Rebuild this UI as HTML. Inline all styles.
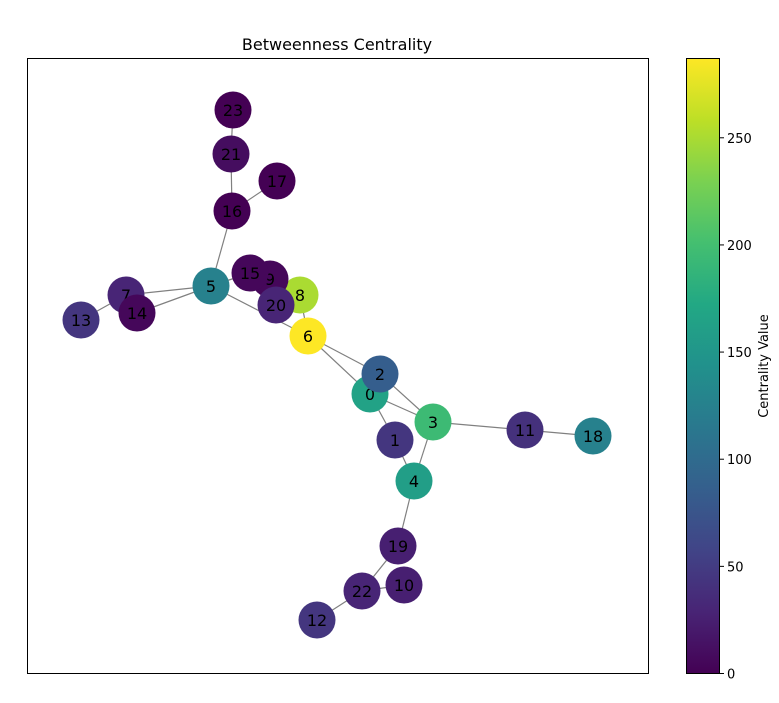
<!DOCTYPE html>
<html><head><meta charset="utf-8"><style>
body{margin:0;background:#fff;font-family:"DejaVu Sans","Liberation Sans",sans-serif}
</style></head><body>
<svg id="c" width="779" height="699" xmlns="http://www.w3.org/2000/svg" font-family="DejaVu Sans, Liberation Sans, sans-serif">
<defs><linearGradient id="vg" x1="0" y1="1" x2="0" y2="0">
<stop offset="0" stop-color="#440154"/><stop offset="0.1" stop-color="#482475"/><stop offset="0.2" stop-color="#414487"/><stop offset="0.3" stop-color="#355f8d"/><stop offset="0.4" stop-color="#2a788e"/><stop offset="0.5" stop-color="#21918c"/><stop offset="0.6" stop-color="#22a884"/><stop offset="0.7" stop-color="#44bf70"/><stop offset="0.8" stop-color="#7ad151"/><stop offset="0.9" stop-color="#bddf26"/><stop offset="1" stop-color="#fde725"/></linearGradient></defs>
<text x="337" y="50" text-anchor="middle" font-size="16">Betweenness Centrality</text>
<rect x="27.5" y="58.5" width="621" height="615" fill="none" stroke="#000"/>
<g id="edges"></g><g id="nodes"></g>
<rect x="686.5" y="58.5" width="33" height="615" fill="url(#vg)" stroke="#000"/>
<g id="cbticks"></g>
<text x="768" y="366" text-anchor="middle" font-size="13" transform="rotate(-90 768 366)">Centrality Value</text>
</svg>
<script>
const nodeIds=[0,1,2,3,4,5,6,7,8,9,10,11,12,13,14,15,16,17,18,19,20,21,22,23];
const nodeX=[370,395,380,433,414,211,308,126,300,270,404,525,317,81,137,250,232,277,593,398,276,231,362,233];
const nodeY=[394,440,374,422,481,286,336,295,295,279,585,430,620,320,313,273,211,181,436,546,305,154,591,110];
const centrality=[165,45,85,195,160,125,287,30,250,5,25,40,45,45,5,5,0,0,125,25,30,10,30,0];
const edgeFrom=[6,6,0,2,0,1,3,3,11,4,19,22,22,5,5,16,21,16,5,5,7,8,15,9];
const edgeTo=[0,2,3,3,1,4,4,11,18,19,22,10,12,6,16,21,23,17,7,14,13,6,5,20];
const cbTicks=[0,50,100,150,200,250];
const vmax=287;
const stops=["#440154","#482475","#414487","#355f8d","#2a788e","#21918c","#22a884","#44bf70","#7ad151","#bddf26","#fde725"];
function hex(h){return [1,3,5].map(i=>parseInt(h.substr(i,2),16));}
function viridis(t){t=Math.max(0,Math.min(1,t));const p=t*(stops.length-1),i=Math.min(Math.floor(p),stops.length-2),f=p-i;const a=hex(stops[i]),b=hex(stops[i+1]);return `rgb(${a.map((v,k)=>Math.round(v+(b[k]-v)*f)).join(",")})`;}
const NS="http://www.w3.org/2000/svg";
const eg=document.getElementById('edges'),ng=document.getElementById('nodes'),cg=document.getElementById('cbticks');
edgeFrom.forEach((a,i)=>{const b=edgeTo[i];const l=document.createElementNS(NS,'line');
l.setAttribute('x1',nodeX[a]);l.setAttribute('y1',nodeY[a]);l.setAttribute('x2',nodeX[b]);l.setAttribute('y2',nodeY[b]);
l.setAttribute('stroke','#808080');l.setAttribute('stroke-width','1.2');


eg.appendChild(l);});
nodeIds.forEach((id,i)=>{const g=document.createElementNS(NS,'g');


const c=document.createElementNS(NS,'circle');c.setAttribute('cx',nodeX[i]);c.setAttribute('cy',nodeY[i]);c.setAttribute('r',18.5);c.setAttribute('fill',viridis(centrality[i]/vmax));
const t=document.createElementNS(NS,'text');t.setAttribute('x',nodeX[i]);t.setAttribute('y',nodeY[i]+6);t.setAttribute('text-anchor','middle');t.setAttribute('font-size','16');t.textContent=id;
g.appendChild(c);g.appendChild(t);ng.appendChild(g);});
cbTicks.forEach(v=>{const y=673.5-v/vmax*615;const l=document.createElementNS(NS,'line');
l.setAttribute('x1',720);l.setAttribute('x2',724);l.setAttribute('y1',y);l.setAttribute('y2',y);l.setAttribute('stroke','#000');


const t=document.createElementNS(NS,'text');t.setAttribute('x',727);t.setAttribute('y',y+5);t.setAttribute('font-size','13');t.textContent=v;


cg.appendChild(l);cg.appendChild(t);});
</script>
</body></html>
